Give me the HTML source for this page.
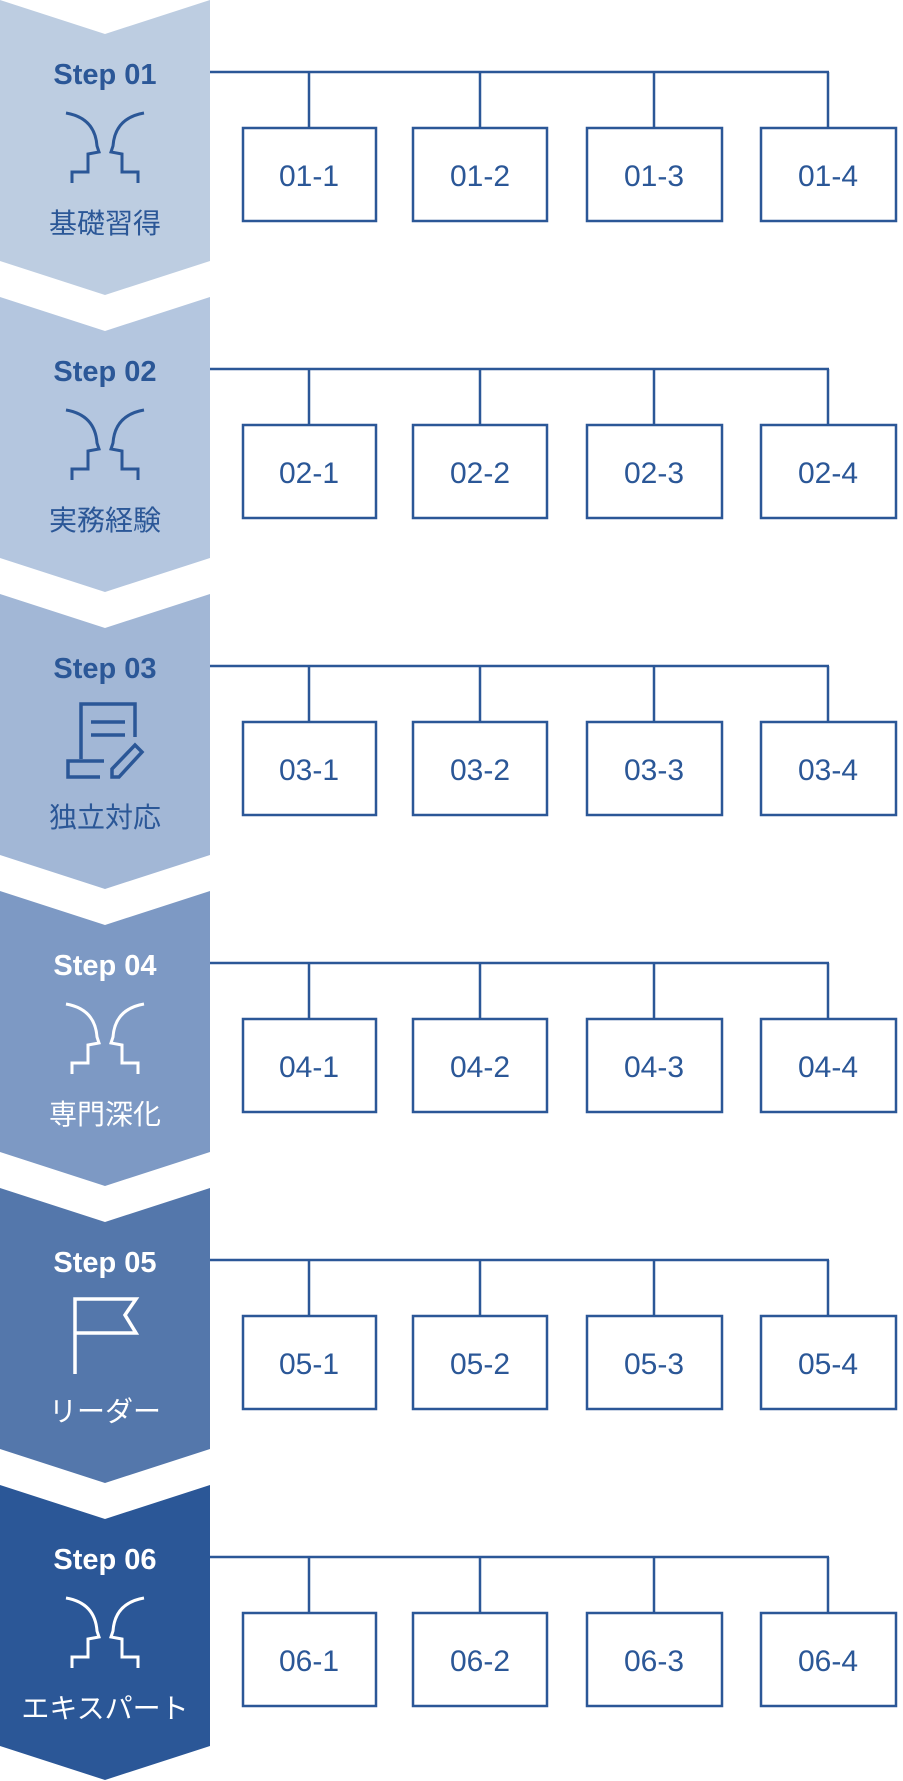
<!DOCTYPE html>
<html><head><meta charset="utf-8"><style>
html,body{margin:0;padding:0;background:#fff;width:903px;height:1781px;overflow:hidden}
svg{display:block}
</style></head><body>
<svg width="903" height="1781" viewBox="0 0 903 1781" xmlns="http://www.w3.org/2000/svg" font-family="'Liberation Sans','Noto Sans CJK JP',sans-serif">
<defs>
<g id="face" fill="none" stroke-width="3">
<path d="M66,113 Q95,118 97,146 L99,152 L88,154 L88,172 L72,172 L72,183"/>
<path d="M144,113 Q115,118 113,146 L111,152 L122,154 L122,172 L138,172 L138,183"/>
</g>
<g id="boxes" fill="#fff" stroke="#2b5797" stroke-width="2.5">
<line x1="210" y1="72" x2="829" y2="72"/>
<line x1="309" y1="72" x2="309" y2="127"/>
<line x1="480" y1="72" x2="480" y2="127"/>
<line x1="654" y1="72" x2="654" y2="127"/>
<line x1="828" y1="72" x2="828" y2="127"/>
<rect x="243" y="128" width="133" height="93"/>
<rect x="413" y="128" width="134" height="93"/>
<rect x="587" y="128" width="135" height="93"/>
<rect x="761" y="128" width="135" height="93"/>
</g>
</defs>

<!-- Block 1 -->
<g transform="translate(0,0)">
<polygon points="0,0 105,34 210,0 210,261 105,295 0,261" fill="#bdcde1"/>
<text x="105" y="84" text-anchor="middle" font-size="29" font-weight="bold" fill="#2b5797">Step 01</text>
<use href="#face" stroke="#2b5797"/>
<text x="105" y="233" text-anchor="middle" font-size="28" fill="#2b5797">基礎習得</text>
<use href="#boxes"/>
<g font-size="30" fill="#2b5797" text-anchor="middle"><text x="309" y="186">01-1</text><text x="480" y="186">01-2</text><text x="654" y="186">01-3</text><text x="828" y="186">01-4</text></g>
</g>

<!-- Block 2 -->
<g transform="translate(0,297)">
<polygon points="0,0 105,34 210,0 210,261 105,295 0,261" fill="#b4c6df"/>
<text x="105" y="84" text-anchor="middle" font-size="29" font-weight="bold" fill="#2b5797">Step 02</text>
<use href="#face" stroke="#2b5797"/>
<text x="105" y="233" text-anchor="middle" font-size="28" fill="#2b5797">実務経験</text>
<use href="#boxes"/>
<g font-size="30" fill="#2b5797" text-anchor="middle"><text x="309" y="186">02-1</text><text x="480" y="186">02-2</text><text x="654" y="186">02-3</text><text x="828" y="186">02-4</text></g>
</g>

<!-- Block 3 -->
<g transform="translate(0,594)">
<polygon points="0,0 105,34 210,0 210,261 105,295 0,261" fill="#a2b7d6"/>
<text x="105" y="84" text-anchor="middle" font-size="29" font-weight="bold" fill="#2b5797">Step 03</text>
<g fill="none" stroke="#2b5797" stroke-width="3.5">
<path d="M81,165 L81,110 L135,110 L135,143"/>
<line x1="91" y1="128" x2="125" y2="128"/>
<line x1="91" y1="141" x2="125" y2="141"/>
<path d="M104,167 L68,167 L68,183 L100,183"/>
<path d="M112,183 L112,175 L135,151 L142,158 L119,183 Z"/>
</g>
<text x="105" y="233" text-anchor="middle" font-size="28" fill="#2b5797">独立対応</text>
<use href="#boxes"/>
<g font-size="30" fill="#2b5797" text-anchor="middle"><text x="309" y="186">03-1</text><text x="480" y="186">03-2</text><text x="654" y="186">03-3</text><text x="828" y="186">03-4</text></g>
</g>

<!-- Block 4 -->
<g transform="translate(0,891)">
<polygon points="0,0 105,34 210,0 210,261 105,295 0,261" fill="#7d99c4"/>
<text x="105" y="84" text-anchor="middle" font-size="29" font-weight="bold" fill="#fff">Step 04</text>
<use href="#face" stroke="#fff"/>
<text x="105" y="233" text-anchor="middle" font-size="28" fill="#fff">専門深化</text>
<use href="#boxes"/>
<g font-size="30" fill="#2b5797" text-anchor="middle"><text x="309" y="186">04-1</text><text x="480" y="186">04-2</text><text x="654" y="186">04-3</text><text x="828" y="186">04-4</text></g>
</g>

<!-- Block 5 -->
<g transform="translate(0,1188)">
<polygon points="0,0 105,34 210,0 210,261 105,295 0,261" fill="#5477ab"/>
<text x="105" y="84" text-anchor="middle" font-size="29" font-weight="bold" fill="#fff">Step 05</text>
<g fill="none" stroke="#fff" stroke-width="3.5">
<path d="M75,186 L75,111 L136,111 L125,127 L136,145 L75,145"/>
</g>
<text x="105" y="233" text-anchor="middle" font-size="28" fill="#fff">リーダー</text>
<use href="#boxes"/>
<g font-size="30" fill="#2b5797" text-anchor="middle"><text x="309" y="186">05-1</text><text x="480" y="186">05-2</text><text x="654" y="186">05-3</text><text x="828" y="186">05-4</text></g>
</g>

<!-- Block 6 -->
<g transform="translate(0,1485)">
<polygon points="0,0 105,34 210,0 210,261 105,295 0,261" fill="#2b5797"/>
<text x="105" y="84" text-anchor="middle" font-size="29" font-weight="bold" fill="#fff">Step 06</text>
<use href="#face" stroke="#fff"/>
<text x="105" y="233" text-anchor="middle" font-size="28" fill="#fff">エキスパート</text>
<use href="#boxes"/>
<g font-size="30" fill="#2b5797" text-anchor="middle"><text x="309" y="186">06-1</text><text x="480" y="186">06-2</text><text x="654" y="186">06-3</text><text x="828" y="186">06-4</text></g>
</g>
</svg>
</body></html>
